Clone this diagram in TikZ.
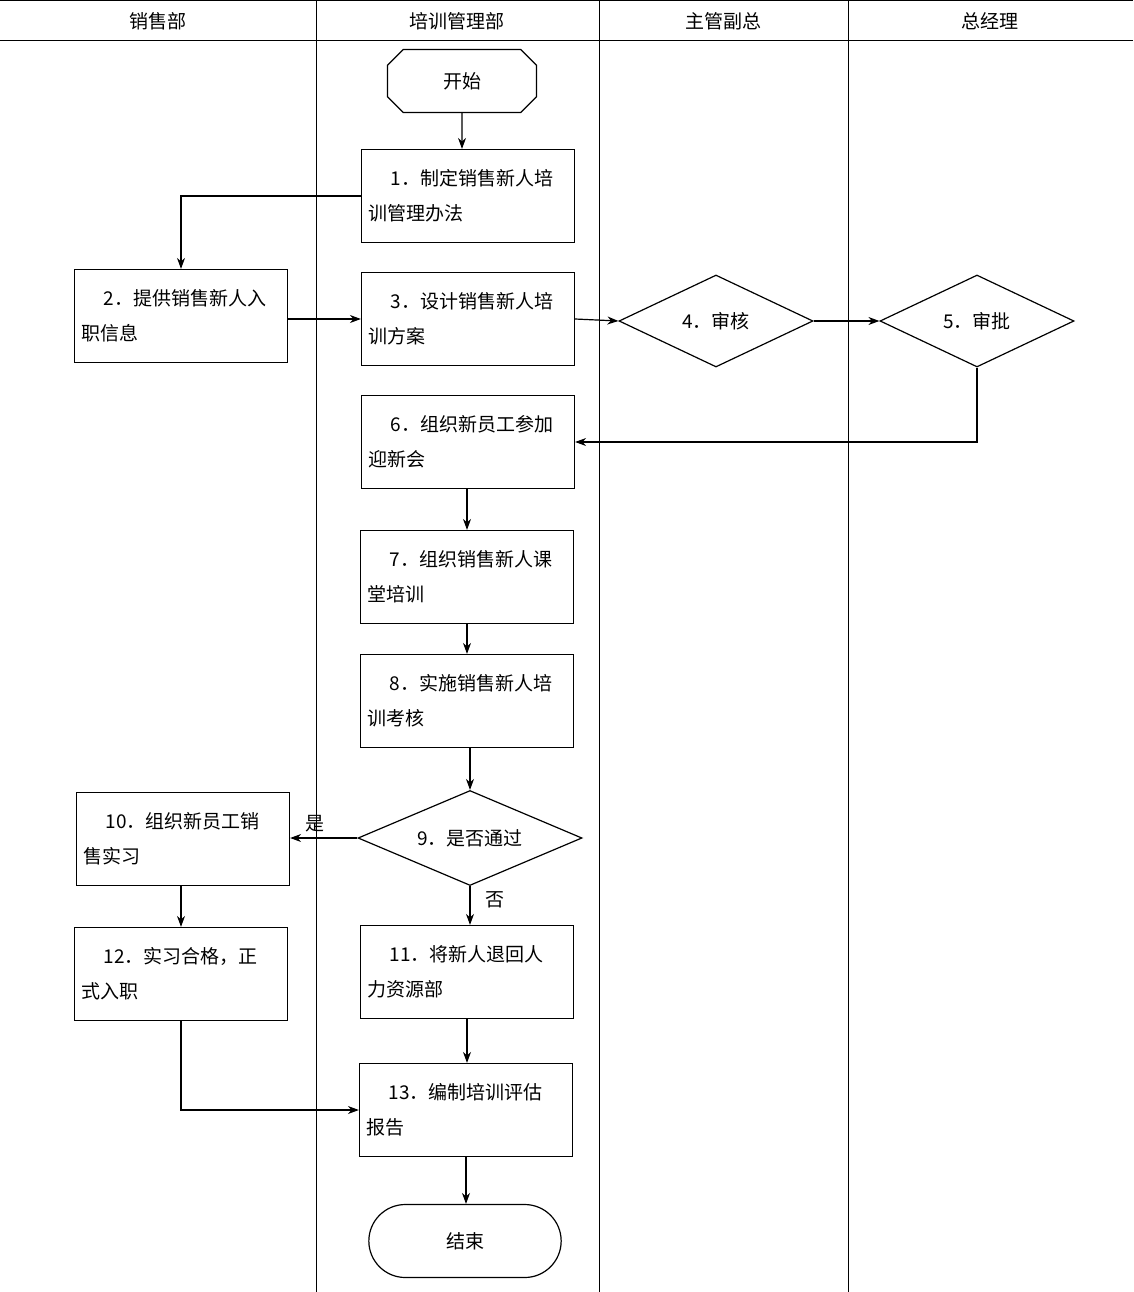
\documentclass[tikz,border=0pt]{standalone}
\usepackage{fontspec}
\setmainfont{Noto Sans CJK SC}
\usetikzlibrary{shapes.geometric,shapes.misc,arrows.meta}
\begin{document}
\begin{tikzpicture}[x=1pt,y=-1pt,
  every node/.style={font=\fontsize{19}{35}\selectfont},
  box/.style={draw,line width=1.2pt,minimum width=213pt,minimum height=93pt,text width=200pt,align=left,inner sep=4pt},
  dia/.style={draw,line width=1.2pt,diamond,aspect=2.05,minimum width=194pt,minimum height=92pt,inner sep=0pt},
  arr/.style={line width=1.2pt,-{Stealth[length=11pt,width=8pt]}},
  lane/.style={line width=1pt}]
\useasboundingbox (0,0) rectangle (1133,1292);
\fill[white] (0,0) rectangle (1133,1292);
\draw[lane] (0,1) -- (1133,1);
\draw[lane] (0,41) -- (1133,41);
\foreach \x in {316,599,848} \draw[lane] (\x,0) -- (\x,1292);
\node (h1) at (158,21) {销售部};
\node (h2) at (457,21) {培训管理部};
\node (h3) at (723,21) {主管副总};
\node (h4) at (990,21) {总经理};
\node[draw,line width=1.2pt,chamfered rectangle,chamfered rectangle xsep=22pt,minimum width=149pt,minimum height=63pt] (st) at (462,81) {开始};
\node[box] (n1) at (468,196) {\hspace*{1.2em}1．制定销售新人培\\训管理办法};
\node[box] (n2) at (181,316) {\hspace*{1.2em}2．提供销售新人入\\职信息};
\node[box] (n3) at (468,319) {\hspace*{1.2em}3．设计销售新人培\\训方案};
\node[dia] (n4) at (716,321) {4．审核};
\node[dia] (n5) at (977,321) {5．审批};
\node[box] (n6) at (468,442) {\hspace*{1.2em}6．组织新员工参加\\迎新会};
\node[box] (n7) at (467,577) {\hspace*{1.2em}7．组织销售新人课\\堂培训};
\node[box] (n8) at (467,701) {\hspace*{1.2em}8．实施销售新人培\\训考核};
\node[dia,minimum width=224pt,minimum height=95pt,aspect=2.36] (n9) at (470,838) {9．是否通过};
\node[box] (n10) at (183,839) {\hspace*{1.2em}10．组织新员工销\\售实习};
\node[box] (n11) at (467,972) {\hspace*{1.2em}11．将新人退回人\\力资源部};
\node[box] (n12) at (181,974) {\hspace*{1.2em}12．实习合格，正\\式入职};
\node[box] (n13) at (466,1110) {\hspace*{1.2em}13．编制培训评估\\报告};
\node[draw,line width=1.2pt,rounded rectangle,minimum width=199pt,minimum height=73pt] (en) at (465,1241) {结束};
\draw[arr] (st) -- (st |- n1.north);
\draw[arr] (n1.west) -| (n2.north);
\draw[arr] (n2.east |- n3.west) -- (n3.west);
\draw[arr] (n3.east) -- (n4.west);
\draw[arr] (n4.east) -- (n5.west);
\draw[arr] (n5.south) |- (n6.east);
\draw[arr] (n6.south -| n7.north) -- (n7.north);
\draw[arr] (n7.south) -- (n8.north);
\draw[arr] (n8.south -| n9.north) -- (n9.north);
\draw[arr] (n9.west) -- (n9.west -| n10.east) node[pos=0.63,above=2pt] (ys) {是};
\draw[arr] (n9.south) -- (n9.south |- n11.north) node[pos=0.35,right=12pt] (no) {否};
\draw[arr] (n10.south -| n12.north) -- (n12.north);
\draw[arr] (n11.south) -- (n13.north -| n11.south);
\draw[arr] (n12.south) |- (n13.west);
\draw[arr] (n13.south) -- (n13.south |- en.north);
\end{tikzpicture}
\end{document}
